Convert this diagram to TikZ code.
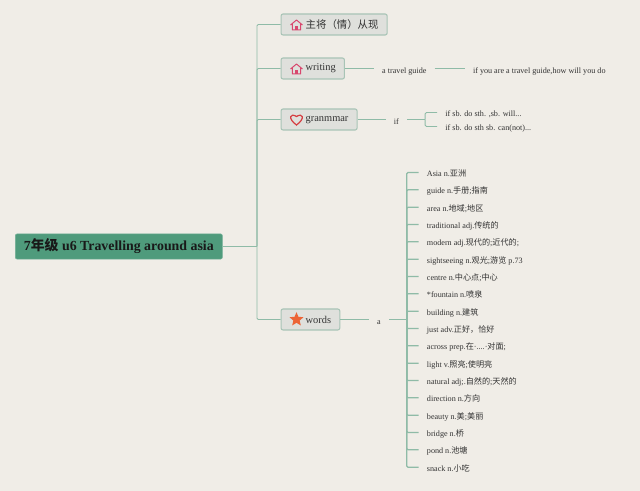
\documentclass[tikz,border=0pt]{standalone}
\usepackage{xcolor}
\usepackage{fontspec}
\setmainfont{Liberation Serif}
\newfontfamily\cjk{Noto Sans CJK SC}
\newcommand{\zh}[1]{{\cjk #1}}
\usepackage{tikz}
\usetikzlibrary{positioning,shapes.geometric}
\definecolor{paper}{HTML}{F0EDE7}
\definecolor{rootgreen}{HTML}{4F9B7C}
\definecolor{linkgreen}{HTML}{8FBBA7}
\definecolor{boxgray}{HTML}{DFE0DC}
\definecolor{boxedge}{HTML}{A8C4B6}
\definecolor{inkgray}{HTML}{333333}
\definecolor{homepink}{HTML}{D8486E}
\definecolor{heartred}{HTML}{D63C40}
\definecolor{starorange}{HTML}{EC6436}

\begin{document}
\begin{tikzpicture}[
  x=.75pt, y=-.75pt,
  rootbox/.style={fill=rootgreen, draw=rootgreen!80!white, rounded corners=1.5pt, font=\fontsize{10.4}{12}\selectfont\bfseries, text=black!90, inner xsep=6.5pt, minimum height=19pt},
  topic/.style={draw=boxedge, line width=.8pt, fill=boxgray, rounded corners=1.5pt, font=\fontsize{7.8}{10}\selectfont, text=inkgray, inner xsep=6.5pt, minimum height=15.75pt, execute at begin node=\hspace*{12pt}},
  leaf/.style={font=\fontsize{6.1}{8}\selectfont, text=inkgray, inner xsep=6pt, inner ysep=0pt, text height=7pt, text depth=1.1pt},
  midleaf/.style={leaf, text height=8.8pt},
  link/.style={draw=linkgreen, line width=.7pt, rounded corners=1pt},
  wordlink/.style={link, line width=.9pt},
  homeicon/.pic={
    \draw[homepink, line width=.75pt, line join=round] (-6,.5) -- (0,-4.5) -- (6,.5) (-4.2,-.5) -- (-4.2,5.5) -- (4.2,5.5) -- (4.2,-.5);
    \fill[homepink] (-1.6,5.5) rectangle (1.6,1.7);
  },
  hearticon/.pic={
    \draw[heartred, line width=.9pt] (0,5.5) .. controls (-9,-1) and (-6.5,-7) .. (0,-3) .. controls (6.5,-7) and (9,-1) .. (0,5.5) -- cycle;
  }
]
\fill[paper] (0,0) rectangle (640,491);
\useasboundingbox (0,0) rectangle (640,491);

\node[rootbox, anchor=west] (root) at (15,246.5) {7\zh{年级} u6 Travelling around asia};

\node[topic, anchor=west] (rule) at (280.5,24.5) {\zh{主将（情）从现}};
\node[topic, anchor=west] (writing) at (280.5,68.5) {writing};
\node[topic, anchor=west] (grammar) at (280.5,119.5) {granmmar};
\node[topic, anchor=west] (words) at (280.5,319.5) {words};

\pic at ([xshift=12pt]rule.west) {homeicon};
\pic at ([xshift=12pt]writing.west) {homeicon};
\pic at ([xshift=12pt]grammar.west) {hearticon};
\node[star, star points=5, star point ratio=2.2, fill=starorange, inner sep=0pt, minimum size=11pt] (staricon) at ([xshift=12pt]words.west) {};

\coordinate (fork) at (257,246.5);
\draw[link] (root.east) -- (fork);
\draw[link] (fork) |- (rule.west);
\draw[link] (fork) |- (writing.west);
\draw[link] (fork) |- (grammar.west);
\draw[link] (fork) |- (words.west);

% writing
\node[midleaf, right=21.75pt of writing] (guide) {a travel guide};
\node[midleaf, right=22.5pt of guide] (guideq) {if you are a travel guide,how will you do};
\draw[link] (writing) -- (writing -| guide.west);
\draw[link] (writing -| guide.east) -- (writing -| guideq.west);

% grammar
\node[midleaf, right=21pt of grammar] (iftext) {if};
\coordinate[right=13.5pt of iftext] (ifknot);
\node[leaf, above right=5.25pt and 9pt of ifknot, anchor=west] (ifone) {if sb. do sth. ,sb. will...};
\node[leaf, below right=5.25pt and 9pt of ifknot, anchor=west] (iftwo) {if sb. do sth sb. can(not)...};
\draw[link] (grammar) -- (grammar -| iftext.west);
\draw[link] (grammar -| iftext.east) -- (grammar -| ifknot);
\draw[link] (grammar -| ifknot) |- (ifone.west);
\draw[link] (grammar -| ifknot) |- (iftwo.west);

% words
\node[midleaf, right=21.4pt of words] (atext) {a};
\coordinate[right=13.25pt of atext] (aknot);
\node[leaf, above right=110.25pt and 9pt of aknot, anchor=west] (w1) {Asia n.\zh{亚洲}};
\node[leaf, below=13pt of w1.west, anchor=west] (w2) {guide n.\zh{手册};\zh{指南}};
\node[leaf, below=13pt of w2.west, anchor=west] (w3) {area n.\zh{地域};\zh{地区}};
\node[leaf, below=13pt of w3.west, anchor=west] (w4) {traditional adj.\zh{传统的}};
\node[leaf, below=13pt of w4.west, anchor=west] (w5) {modern adj.\zh{现代的};\zh{近代的};};
\node[leaf, below=13pt of w5.west, anchor=west] (w6) {sightseeing n.\zh{观光};\zh{游览} p.73};
\node[leaf, below=13pt of w6.west, anchor=west] (w7) {centre n.\zh{中心点};\zh{中心}};
\node[leaf, below=13pt of w7.west, anchor=west] (w8) {*fountain n.\zh{喷泉}};
\node[leaf, below=13pt of w8.west, anchor=west] (w9) {building n.\zh{建筑}};
\node[leaf, below=13pt of w9.west, anchor=west] (w10) {just adv.\zh{正好，恰好}};
\node[leaf, below=13pt of w10.west, anchor=west] (w11) {across prep.\zh{在}·....·\zh{对面};};
\node[leaf, below=13pt of w11.west, anchor=west] (w12) {light v.\zh{照亮};\zh{使明亮}};
\node[leaf, below=13pt of w12.west, anchor=west] (w13) {natural adj;.\zh{自然的};\zh{天然的}};
\node[leaf, below=13pt of w13.west, anchor=west] (w14) {direction n.\zh{方向}};
\node[leaf, below=13pt of w14.west, anchor=west] (w15) {beauty n.\zh{美};\zh{美丽}};
\node[leaf, below=13pt of w15.west, anchor=west] (w16) {bridge n.\zh{桥}};
\node[leaf, below=13pt of w16.west, anchor=west] (w17) {pond n.\zh{池塘}};
\node[leaf, below=13pt of w17.west, anchor=west] (w18) {snack n.\zh{小吃}};

\draw[link] (words) -- (words -| atext.west);
\draw[link] (words -| atext.east) -- (words -| aknot);
\draw[wordlink] (words -| aknot) |- (w1.west);
\draw[wordlink] (words -| aknot) |- (w2.west);
\draw[wordlink] (words -| aknot) |- (w3.west);
\draw[wordlink] (words -| aknot) |- (w4.west);
\draw[wordlink] (words -| aknot) |- (w5.west);
\draw[wordlink] (words -| aknot) |- (w6.west);
\draw[wordlink] (words -| aknot) |- (w7.west);
\draw[wordlink] (words -| aknot) |- (w8.west);
\draw[wordlink] (words -| aknot) |- (w9.west);
\draw[wordlink] (words -| aknot) |- (w10.west);
\draw[wordlink] (words -| aknot) |- (w11.west);
\draw[wordlink] (words -| aknot) |- (w12.west);
\draw[wordlink] (words -| aknot) |- (w13.west);
\draw[wordlink] (words -| aknot) |- (w14.west);
\draw[wordlink] (words -| aknot) |- (w15.west);
\draw[wordlink] (words -| aknot) |- (w16.west);
\draw[wordlink] (words -| aknot) |- (w17.west);
\draw[wordlink] (words -| aknot) |- (w18.west);
\end{tikzpicture}
\end{document}
